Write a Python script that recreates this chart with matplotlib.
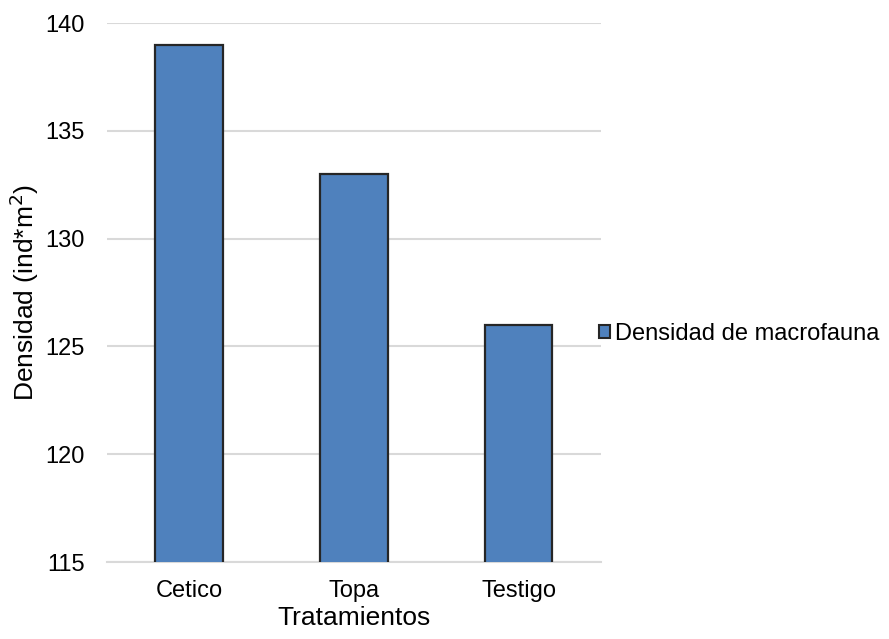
import matplotlib.pyplot as plt
from matplotlib.patches import Patch

tratamientos = ['Cetico', 'Topa', 'Testigo']
densidad = [139, 133, 126]
yticks = [115, 120, 125, 130, 135, 140]

plt.rcParams['font.family'] = ['Liberation Sans', 'DejaVu Sans']

fig = plt.figure(figsize=(8.89, 6.39), dpi=100)
ax = fig.add_axes([0.120, 0.1205, 0.556, 0.8435])

bar_color = '#4F81BD'
edge_color = '#262626'
grid_color = '#D9D9D9'

x = range(len(tratamientos))
ax.bar(x, densidad, width=0.41, color=bar_color, edgecolor=edge_color,
       linewidth=1.6, zorder=3)

ax.set_ylim(115, 140)
ax.set_xlim(-0.5, 2.5)
ax.set_yticks(yticks)
ax.set_xticks(list(x))
ax.set_xticklabels(tratamientos)

ax.yaxis.grid(True, color=grid_color, linewidth=1.5, zorder=0)
for s in ['top', 'right', 'left']:
    ax.spines[s].set_visible(False)
ax.spines['bottom'].set_color(grid_color)
ax.spines['bottom'].set_linewidth(1.5)

ax.tick_params(axis='both', length=0, labelsize=17, colors='black')
ax.tick_params(axis='y', pad=16)
ax.tick_params(axis='x', pad=13)

ax.set_xlabel('Tratamientos', fontsize=19, labelpad=3)
ax.set_ylabel('Densidad (ind*m$^2$)', fontsize=19, labelpad=3)

handle = Patch(facecolor=bar_color, edgecolor=edge_color, linewidth=1.5)
fig.legend([handle], ['Densidad de macrofauna'], loc='center left',
           bbox_to_anchor=(0.674, 0.477), frameon=False, fontsize=17,
           handlelength=0.45, handleheight=0.45, handletextpad=0.2,
           borderpad=0, borderaxespad=0)

fig.savefig('out.png', dpi=100)
